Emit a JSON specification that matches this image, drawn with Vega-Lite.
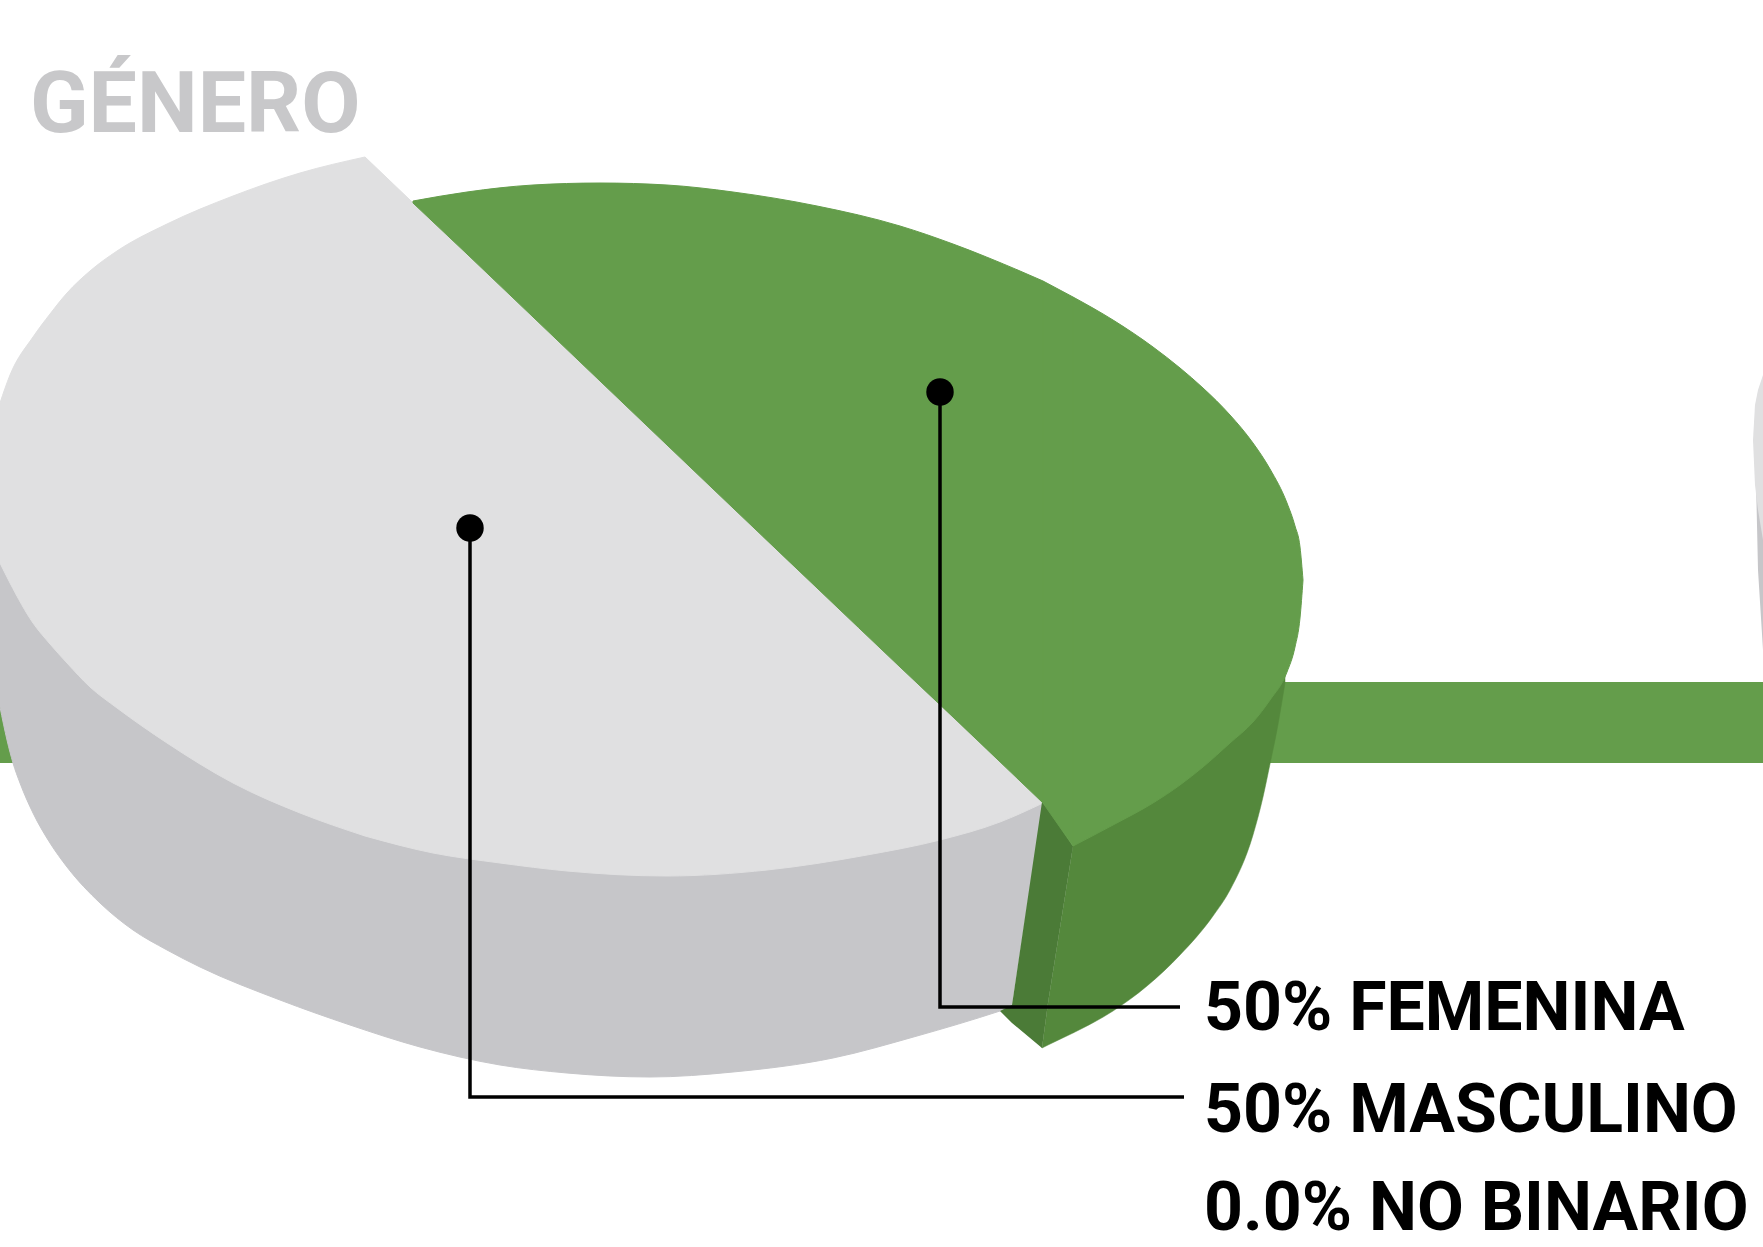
{"$schema":"https://vega.github.io/schema/vega-lite/v6.json","width":1763,"height":1247,"padding":0,"autosize":{"type":"none"},"background":"#ffffff","view":{"stroke":null},
"datasets":{"shapes":[
{"part":"bar","x":0,"y":682,"y2":763},{"part":"bar","x":1763,"y":682,"y2":763},
{"part":"next_side","x":1756,"y":480,"y2":480},{"part":"next_side","x":1758,"y":500,"y2":570},{"part":"next_side","x":1763,"y":530,"y2":650},
{"part":"next_top","x":1753,"y":440,"y2":440},{"part":"next_top","x":1755,"y":405,"y2":485},{"part":"next_top","x":1758,"y":390,"y2":510},{"part":"next_top","x":1763,"y":375,"y2":540},
{"part":"gray_side_a","x":0,"y":533,"y2":707},{"part":"gray_side_a","x":7,"y":545,"y2":740},{"part":"gray_side_a","x":13,"y":555,"y2":763},{"part":"gray_side_a","x":20,"y":570,"y2":783},{"part":"gray_side_a","x":33,"y":593,"y2":813},{"part":"gray_side_a","x":50,"y":615,"y2":843},{"part":"gray_side_a","x":67,"y":633,"y2":867},{"part":"gray_side_a","x":100,"y":665,"y2":903},{"part":"gray_side_a","x":133,"y":690,"y2":930},{"part":"gray_side_a","x":167,"y":713,"y2":950},{"part":"gray_side_a","x":200,"y":733,"y2":967},{"part":"gray_side_a","x":280,"y":775,"y2":1000},{"part":"gray_side_a","x":350,"y":800,"y2":1025},{"part":"gray_side_a","x":420,"y":815,"y2":1047},{"part":"gray_side_a","x":500,"y":830,"y2":1065},{"part":"gray_side_a","x":567,"y":840,"y2":1073},{"part":"gray_side_a","x":650,"y":845,"y2":1077},{"part":"gray_side_a","x":733,"y":840,"y2":1072},{"part":"gray_side_a","x":833,"y":825,"y2":1058},{"part":"gray_side_a","x":917,"y":810,"y2":1036},{"part":"gray_side_a","x":1000,"y":792,"y2":1011},{"part":"gray_side_a","x":1012,"y":795,"y2":1007},
{"part":"gray_side_b","x":1012,"y":800,"y2":1005},{"part":"gray_side_b","x":1043,"y":803,"y2":803},
{"part":"gray_top_a","x":0,"y":403,"y2":563},{"part":"gray_top_a","x":10,"y":375,"y2":583},{"part":"gray_top_a","x":33,"y":337,"y2":623},{"part":"gray_top_a","x":50,"y":314,"y2":644},{"part":"gray_top_a","x":67,"y":293,"y2":663},{"part":"gray_top_a","x":90,"y":271,"y2":687},{"part":"gray_top_a","x":117,"y":251,"y2":708},{"part":"gray_top_a","x":167,"y":224,"y2":743},{"part":"gray_top_a","x":233,"y":196,"y2":783},{"part":"gray_top_a","x":300,"y":173,"y2":813},{"part":"gray_top_a","x":365,"y":157,"y2":836},
{"part":"gray_top_b","x":365,"y":157,"y2":836},{"part":"gray_top_b","x":433,"y":222,"y2":853},{"part":"gray_top_b","x":500,"y":286,"y2":863},{"part":"gray_top_b","x":567,"y":350,"y2":871},{"part":"gray_top_b","x":667,"y":445,"y2":876},{"part":"gray_top_b","x":767,"y":540,"y2":870},{"part":"gray_top_b","x":867,"y":635,"y2":855},{"part":"gray_top_b","x":940,"y":705,"y2":840},{"part":"gray_top_b","x":1000,"y":762,"y2":822},{"part":"gray_top_b","x":1043,"y":803,"y2":803},
{"part":"green_dark","x":1000,"y":1011,"y2":1011},{"part":"green_dark","x":1012,"y":1005,"y2":1023},{"part":"green_dark","x":1042,"y":802,"y2":1048},{"part":"green_dark","x":1048,"y":808,"y2":1003},{"part":"green_dark","x":1073,"y":846,"y2":846},
{"part":"green_side_a","x":1042,"y":1048,"y2":1048},{"part":"green_side_a","x":1048,"y":1003,"y2":1045},{"part":"green_side_a","x":1073,"y":846,"y2":1033},
{"part":"green_side_b","x":1073,"y":846,"y2":1033},{"part":"green_side_b","x":1113,"y":810,"y2":1011},{"part":"green_side_b","x":1147,"y":790,"y2":986},{"part":"green_side_b","x":1180,"y":770,"y2":955},{"part":"green_side_b","x":1213,"y":745,"y2":916},{"part":"green_side_b","x":1230,"y":728,"y2":890},{"part":"green_side_b","x":1253,"y":700,"y2":835},{"part":"green_side_b","x":1263,"y":690,"y2":797},{"part":"green_side_b","x":1270,"y":680,"y2":764},{"part":"green_side_b","x":1277,"y":676,"y2":730},{"part":"green_side_b","x":1285,"y":676,"y2":683},
{"part":"green_top_a","x":413,"y":201,"y2":203},{"part":"green_top_a","x":467,"y":192,"y2":254},{"part":"green_top_a","x":533,"y":185,"y2":317},{"part":"green_top_a","x":600,"y":183,"y2":381},{"part":"green_top_a","x":667,"y":185,"y2":445},{"part":"green_top_a","x":733,"y":192,"y2":508},{"part":"green_top_a","x":817,"y":206,"y2":588},{"part":"green_top_a","x":900,"y":226,"y2":667},{"part":"green_top_a","x":953,"y":244,"y2":717},{"part":"green_top_a","x":1020,"y":271,"y2":781},{"part":"green_top_a","x":1043,"y":281,"y2":803},
{"part":"green_top_b","x":1043,"y":281,"y2":803},{"part":"green_top_b","x":1073,"y":297,"y2":846},
{"part":"green_top_c","x":1073,"y":297,"y2":846},{"part":"green_top_c","x":1113,"y":320,"y2":825},{"part":"green_top_c","x":1153,"y":347,"y2":803},{"part":"green_top_c","x":1180,"y":368,"y2":785},{"part":"green_top_c","x":1203,"y":388,"y2":767},{"part":"green_top_c","x":1230,"y":415,"y2":743},{"part":"green_top_c","x":1253,"y":443,"y2":722},{"part":"green_top_c","x":1270,"y":469,"y2":700},{"part":"green_top_c","x":1287,"y":503,"y2":672},{"part":"green_top_c","x":1295,"y":526,"y2":647},{"part":"green_top_c","x":1300,"y":547,"y2":618},{"part":"green_top_c","x":1303,"y":580,"y2":580}
],
"leaders":[
{"group":"FEMENINA","step":1,"x":940,"y":392},{"group":"FEMENINA","step":2,"x":940,"y":1007},{"group":"FEMENINA","step":3,"x":1180,"y":1007},
{"group":"MASCULINO","step":1,"x":470,"y":528},{"group":"MASCULINO","step":2,"x":470,"y":1097},{"group":"MASCULINO","step":3,"x":1184,"y":1097}
],
"dots":[{"x":940,"y":392},{"x":470,"y":528}],
"labels":[{"text":"50% FEMENINA","x":1204,"y":1030},{"text":"50% MASCULINO","x":1204,"y":1132},{"text":"0.0% NO BINARIO","x":1204,"y":1230}],
"title":[{"text":"GÉNERO","x":30,"y":132}]},
"layer":[
{"data":{"name":"shapes"},"transform":[{"filter":"datum.part==='bar'"}],"mark":{"type":"area","fill":"#649d4b"},"encoding":{"x":{"field":"x","type":"quantitative","scale":{"domain":[0,1763],"nice":false},"axis":null},"y":{"field":"y","type":"quantitative","stack":null,"scale":{"domain":[1247,0],"nice":false},"axis":null},"y2":{"field":"y2"}}},
{"data":{"name":"shapes"},"transform":[{"filter":"datum.part==='next_side'"}],"mark":{"type":"area","fill":"#c6c6c9"},"encoding":{"x":{"field":"x","type":"quantitative"},"y":{"field":"y","type":"quantitative","stack":null},"y2":{"field":"y2"}}},
{"data":{"name":"shapes"},"transform":[{"filter":"datum.part==='next_top'"}],"mark":{"type":"area","fill":"#e0e0e1"},"encoding":{"x":{"field":"x","type":"quantitative"},"y":{"field":"y","type":"quantitative","stack":null},"y2":{"field":"y2"}}},
{"data":{"name":"shapes"},"transform":[{"filter":"datum.part==='gray_side_a'"}],"mark":{"type":"area","fill":"#c6c6c9","stroke":"#c6c6c9","strokeWidth":1,"interpolate":"monotone"},"encoding":{"x":{"field":"x","type":"quantitative"},"y":{"field":"y","type":"quantitative","stack":null},"y2":{"field":"y2"}}},
{"data":{"name":"shapes"},"transform":[{"filter":"datum.part==='gray_side_b'"}],"mark":{"type":"area","fill":"#c6c6c9"},"encoding":{"x":{"field":"x","type":"quantitative"},"y":{"field":"y","type":"quantitative","stack":null},"y2":{"field":"y2"}}},
{"data":{"name":"shapes"},"transform":[{"filter":"datum.part==='gray_top_a'"}],"mark":{"type":"area","fill":"#e0e0e1","stroke":"#e0e0e1","strokeWidth":1,"interpolate":"monotone"},"encoding":{"x":{"field":"x","type":"quantitative"},"y":{"field":"y","type":"quantitative","stack":null},"y2":{"field":"y2"}}},
{"data":{"name":"shapes"},"transform":[{"filter":"datum.part==='gray_top_b'"}],"mark":{"type":"area","fill":"#e0e0e1","stroke":"#e0e0e1","strokeWidth":1,"interpolate":"monotone"},"encoding":{"x":{"field":"x","type":"quantitative"},"y":{"field":"y","type":"quantitative","stack":null},"y2":{"field":"y2"}}},
{"data":{"name":"shapes"},"transform":[{"filter":"datum.part==='green_side_a'"}],"mark":{"type":"area","fill":"#54883c","stroke":"#54883c","strokeWidth":0.5},"encoding":{"x":{"field":"x","type":"quantitative"},"y":{"field":"y","type":"quantitative","stack":null},"y2":{"field":"y2"}}},
{"data":{"name":"shapes"},"transform":[{"filter":"datum.part==='green_side_b'"}],"mark":{"type":"area","fill":"#54883c","stroke":"#54883c","strokeWidth":0.5,"interpolate":"monotone"},"encoding":{"x":{"field":"x","type":"quantitative"},"y":{"field":"y","type":"quantitative","stack":null},"y2":{"field":"y2"}}},
{"data":{"name":"shapes"},"transform":[{"filter":"datum.part==='green_dark'"}],"mark":{"type":"area","fill":"#4b7b37"},"encoding":{"x":{"field":"x","type":"quantitative"},"y":{"field":"y","type":"quantitative","stack":null},"y2":{"field":"y2"}}},
{"data":{"name":"shapes"},"transform":[{"filter":"datum.part==='green_top_a'"}],"mark":{"type":"area","fill":"#649d4b","stroke":"#649d4b","strokeWidth":1,"interpolate":"monotone"},"encoding":{"x":{"field":"x","type":"quantitative"},"y":{"field":"y","type":"quantitative","stack":null},"y2":{"field":"y2"}}},
{"data":{"name":"shapes"},"transform":[{"filter":"datum.part==='green_top_b'"}],"mark":{"type":"area","fill":"#649d4b","stroke":"#649d4b","strokeWidth":1},"encoding":{"x":{"field":"x","type":"quantitative"},"y":{"field":"y","type":"quantitative","stack":null},"y2":{"field":"y2"}}},
{"data":{"name":"shapes"},"transform":[{"filter":"datum.part==='green_top_c'"}],"mark":{"type":"area","fill":"#649d4b","stroke":"#649d4b","strokeWidth":1,"interpolate":"monotone"},"encoding":{"x":{"field":"x","type":"quantitative"},"y":{"field":"y","type":"quantitative","stack":null},"y2":{"field":"y2"}}},
{"data":{"name":"leaders"},"mark":{"type":"line","stroke":"#000000","strokeWidth":3.5},"encoding":{"x":{"field":"x","type":"quantitative"},"y":{"field":"y","type":"quantitative"},"detail":{"field":"group"},"order":{"field":"step","type":"quantitative"}}},
{"data":{"name":"dots"},"mark":{"type":"circle","fill":"#000000","opacity":1,"size":754},"encoding":{"x":{"field":"x","type":"quantitative"},"y":{"field":"y","type":"quantitative"}}},
{"data":{"name":"labels"},"mark":{"type":"text","font":"Roboto","fontWeight":"bold","fontSize":68,"fill":"#000000","align":"left","baseline":"alphabetic"},"encoding":{"x":{"field":"x","type":"quantitative"},"y":{"field":"y","type":"quantitative"},"text":{"field":"text"}}},
{"data":{"name":"title"},"mark":{"type":"text","font":"Roboto","fontWeight":"bold","fontSize":86,"fill":"#c8c8ca","align":"left","baseline":"alphabetic"},"encoding":{"x":{"field":"x","type":"quantitative"},"y":{"field":"y","type":"quantitative"},"text":{"field":"text"}}}
]}
